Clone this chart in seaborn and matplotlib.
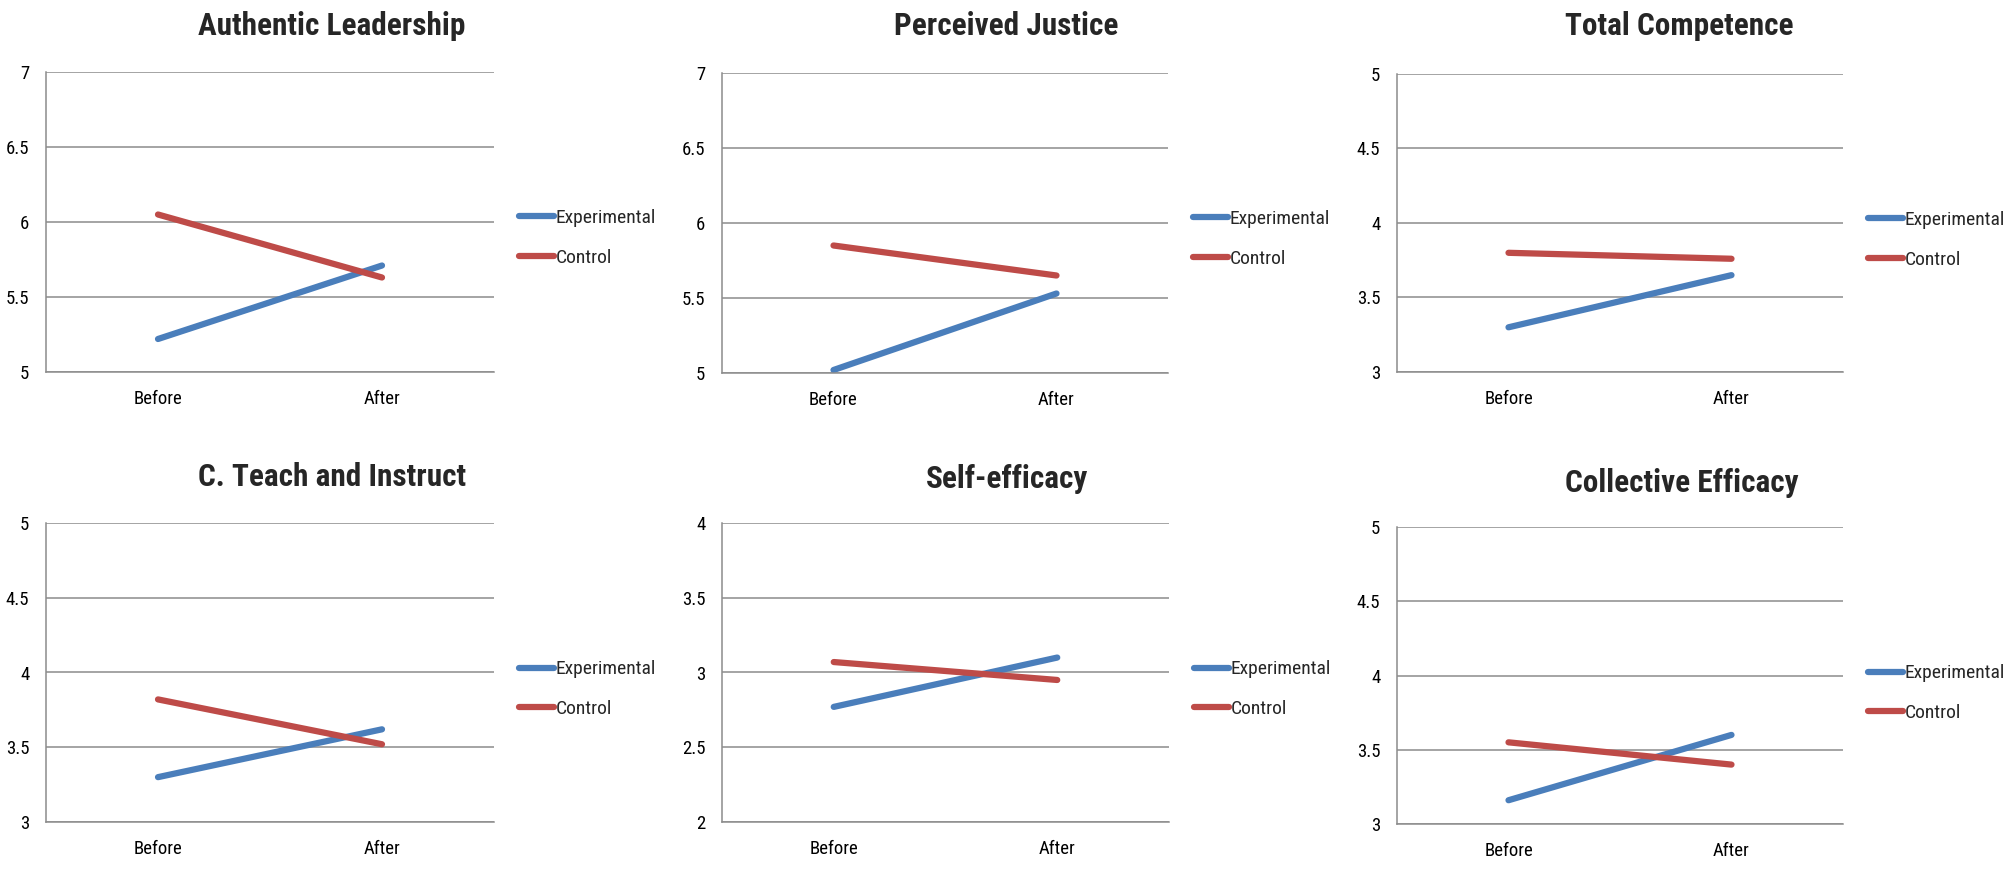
import numpy as np
import pandas as pd
import matplotlib
matplotlib.use("Agg")
import matplotlib.pyplot as plt
import seaborn as sns
from matplotlib import font_manager

titles = ["Authentic Leadership", "Perceived Justice", "Total Competence",
          "C. Teach and Instruct", "Self-efficacy", "Collective Efficacy"]
phases = ["Before", "After"]
groups = ["Experimental", "Control"]

experimental = [[5.22, 5.71], [5.02, 5.53], [3.30, 3.65],
                [3.30, 3.62], [2.77, 3.10], [3.16, 3.60]]
control = [[6.05, 5.63], [5.85, 5.65], [3.80, 3.76],
           [3.82, 3.52], [3.07, 2.95], [3.55, 3.40]]
y_limits = [(5, 7), (5, 7), (3, 5), (3, 5), (2, 4), (3, 5)]

W, H = 2008, 871
# panel boxes in pixels: left, right, top, bottom, title x, title y
boxes = [
    (46, 494, 72, 372, 332, 26),
    (722, 1168, 73, 373, 1006, 26),
    (1397, 1843, 74, 372, 1679, 26),
    (46, 494, 523, 822, 332, 477),
    (722, 1169, 523, 822, 1007, 479),
    (1397, 1843, 527, 824, 1682, 483),
]


def pick_font(names):
    for n in names:
        try:
            font_manager.findfont(n, fallback_to_default=False)
            return n
        except Exception:
            pass
    return "DejaVu Sans"


sns.set_style("white")
font = pick_font(["Liberation Sans Narrow", "Roboto Condensed", "Open Sans", "Liberation Sans"])
plt.rcParams["font.family"] = [font, "DejaVu Sans"]

palette = {"Experimental": "#4A7EBB", "Control": "#BE4B48"}
grid_color = "#8C8C8C"

fig = plt.figure(figsize=(W / 100, H / 100), dpi=100)

for i, title in enumerate(titles):
    left, right, top, bottom, tx, ty = boxes[i]
    ax = fig.add_axes([left / W, 1 - bottom / H, (right - left) / W, (bottom - top) / H])

    df = pd.DataFrame({
        "phase": phases * 2,
        "score": experimental[i] + control[i],
        "group": [groups[0]] * 2 + [groups[1]] * 2,
    })
    sns.lineplot(data=df, x="phase", y="score", hue="group", hue_order=groups,
                 palette=palette, linewidth=4.5, sort=False, ax=ax,
                 solid_capstyle="round")

    lo, hi = y_limits[i]
    ticks = np.arange(lo, hi + 0.01, 0.5)
    ax.set_ylim(lo, hi)
    ax.set_xlim(-0.5, 1.5)
    ax.set_yticks(ticks)
    ax.set_yticklabels([f"{t:g}" for t in ticks])
    ax.set_xlabel("")
    ax.set_ylabel("")
    for t in ticks:
        ax.axhline(t, color=grid_color, linewidth=1.1, zorder=0)
    for side in ["top", "right"]:
        ax.spines[side].set_visible(False)
    for side in ["left", "bottom"]:
        ax.spines[side].set_color(grid_color)
        ax.spines[side].set_linewidth(1.1)
    ax.tick_params(axis="both", length=0, labelsize=13.5, colors="black")
    ax.tick_params(axis="y", pad=12)
    ax.tick_params(axis="x", pad=13)

    leg_y = 1 - ((boxes[i][2] + 166) - top) / (bottom - top)
    ax.legend(loc="center left", bbox_to_anchor=(1.055, leg_y), frameon=False,
              fontsize=14, handlelength=1.8, handletextpad=0.1,
              labelspacing=1.1, borderpad=0, borderaxespad=0)

    fig.text(tx / W, 1 - ty / H, title, ha="center", va="center",
             fontsize=22.5, fontweight="bold")

fig.savefig("out.png", dpi=100, facecolor="white")
